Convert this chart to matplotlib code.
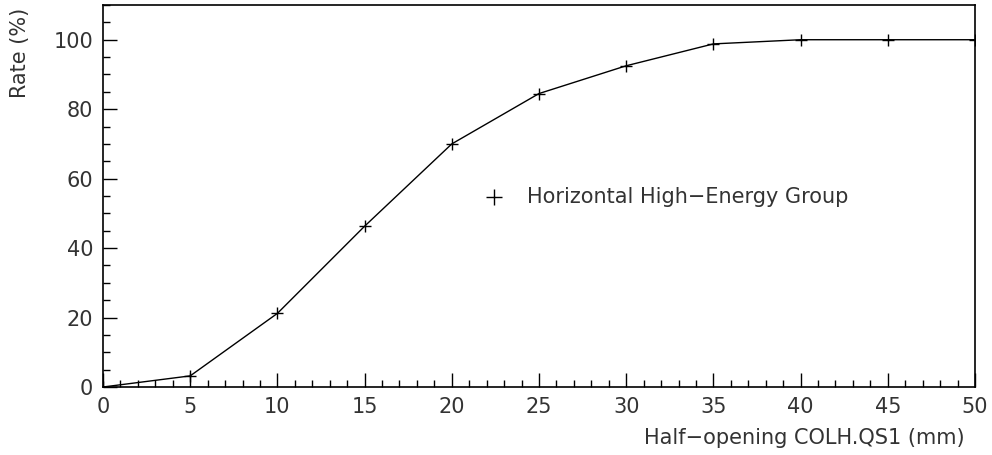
import numpy as np
import matplotlib.pyplot as plt
from matplotlib.ticker import MultipleLocator

# collimator half-opening scan
opening = [0, 5, 10, 15, 20, 25, 30, 35, 40, 45, 50]
rate = [0, 3.2, 21.2, 46.3, 70.0, 84.5, 92.5, 98.8, 100, 100, 100]
legend_label = 'Horizontal High\u2212Energy Group'

plt.rcParams['font.family'] = 'DejaVu Sans'
txt = '#333333'

fig = plt.figure(figsize=(9.92, 4.55), dpi=100)
ax = fig.add_axes([103 / 992, 1 - 387 / 455, 872 / 992, 382 / 455])

ax.plot(opening, rate, color='black', lw=1.0, marker='+', ms=9, mew=1.0)
ax.set_xlim(0, 50)
ax.set_ylim(0, 110)

ax.xaxis.set_major_locator(MultipleLocator(5))
ax.xaxis.set_minor_locator(MultipleLocator(1))
ax.yaxis.set_major_locator(MultipleLocator(20))
ax.yaxis.set_minor_locator(MultipleLocator(5))
ax.tick_params(which='both', direction='in', top=False, right=False,
               labelsize=15, labelcolor=txt, width=1.0)
ax.tick_params(which='major', length=10, pad=7)
ax.tick_params(which='minor', length=5)
for s in ax.spines.values():
    s.set_linewidth(1.2)

# legend entry drawn as data text
ax.plot([22.4], [54.8], marker='+', ms=11, mew=1.0, color='black')
ax.text(24.3, 54.8, legend_label, fontsize=15, color=txt, va='center', ha='left')

fig.text(965 / 992, 1 - 438 / 455, 'Half\u2212opening COLH.QS1 (mm)', fontsize=15,
         color=txt, ha='right', va='center')
fig.text(20 / 992, 1 - 8 / 455, 'Rate (%)', fontsize=15, color=txt,
         rotation=90, ha='center', va='top')

fig.savefig('out.png', dpi=100)
